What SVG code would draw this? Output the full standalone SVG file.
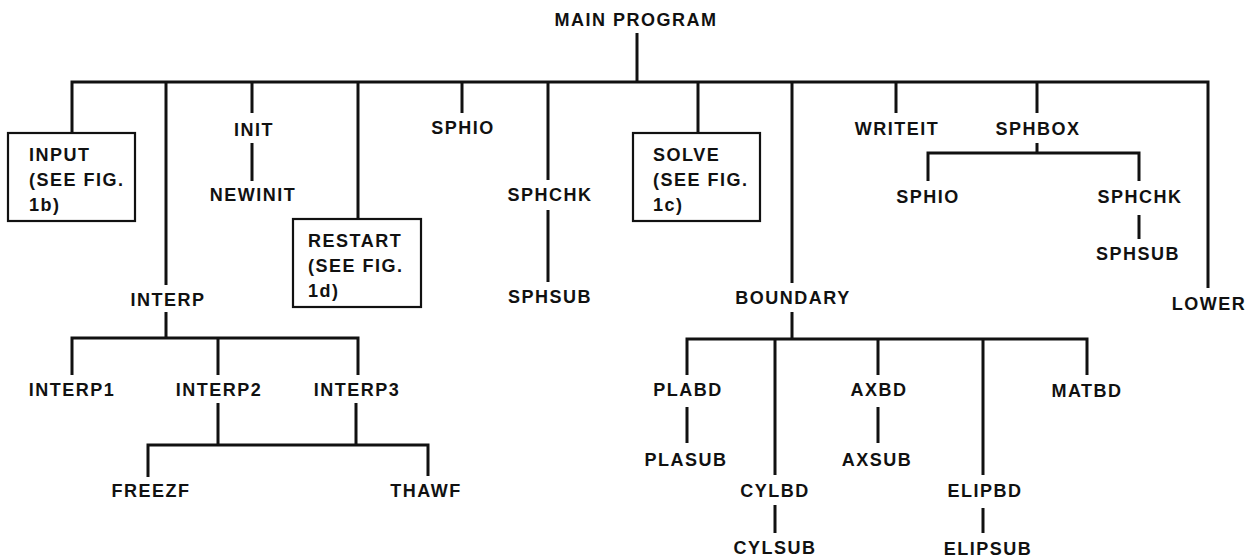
<svg xmlns="http://www.w3.org/2000/svg" width="1250" height="557" viewBox="0 0 1250 557">
<style>
.t{font-family:"Liberation Sans",Arial,sans-serif;font-weight:bold;font-size:18px;letter-spacing:1.5px;fill:#111;text-anchor:middle}
.bt{font-family:"Liberation Sans",Arial,sans-serif;font-weight:bold;font-size:18px;letter-spacing:1.5px;fill:#111;text-anchor:start}
.box{fill:#fff;stroke:#111;stroke-width:2.2}
.c{fill:none;stroke:#111;stroke-width:3}
</style>
<rect width="1250" height="557" fill="#fff"/>
<g id="connectors" class="c">
<path d="M637,33 V82"/>
<path d="M72,133 V82 H1208 V288"/>
<path d="M166,82 V285"/>
<path d="M252,82 V113 M252,143 V181"/>
<path d="M358,82 V219"/>
<path d="M462,82 V113"/>
<path d="M548,82 V180 M548,210 V282"/>
<path d="M698,82 V133"/>
<path d="M792,82 V283"/>
<path d="M896,82 V113"/>
<path d="M1037,82 V113"/>
<path d="M1037,143 V153 M928,181 V153 H1139 V181"/>
<path d="M1139,215 V239"/>
<path d="M166,312 V338 M72,375 V338 H358 V375 M218,338 V375"/>
<path d="M218,403 V445 M356,403 V445 M148,477 V445 H428 V476"/>
<path d="M792,312 V339 M687,375 V339 H1087 V375 M775,339 V475 M878,339 V375 M983,339 V475"/>
<path d="M687,407 V443 M878,407 V443 M775,505 V533 M983,508 V533"/>
</g>
<g id="main"><text class="t" x="636" y="26">MAIN PROGRAM</text></g>
<g id="input"><rect class="box" x="8" y="133" width="127" height="88"/><text class="bt" x="29" y="161">INPUT</text><text class="bt" x="29" y="186">(SEE FIG.</text><text class="bt" x="29" y="211">1b)</text></g>
<g id="init"><text class="t" x="254" y="136">INIT</text></g>
<g id="newinit"><text class="t" x="253" y="201">NEWINIT</text></g>
<g id="interp"><text class="t" x="168" y="306">INTERP</text></g>
<g id="restart"><rect class="box" x="293" y="219" width="128" height="88"/><text class="bt" x="308" y="247">RESTART</text><text class="bt" x="308" y="272">(SEE FIG.</text><text class="bt" x="308" y="297">1d)</text></g>
<g id="sphio1"><text class="t" x="463" y="134">SPHIO</text></g>
<g id="sphchk1"><text class="t" x="550" y="201">SPHCHK</text></g>
<g id="sphsub1"><text class="t" x="550" y="303">SPHSUB</text></g>
<g id="solve"><rect class="box" x="633" y="133" width="127" height="88"/><text class="bt" x="653" y="161">SOLVE</text><text class="bt" x="653" y="186">(SEE FIG.</text><text class="bt" x="653" y="211">1c)</text></g>
<g id="boundary"><text class="t" x="793" y="304">BOUNDARY</text></g>
<g id="writeit"><text class="t" x="897" y="135">WRITEIT</text></g>
<g id="sphbox"><text class="t" x="1038" y="135">SPHBOX</text></g>
<g id="sphio2"><text class="t" x="928" y="203">SPHIO</text></g>
<g id="sphchk2"><text class="t" x="1140" y="203">SPHCHK</text></g>
<g id="sphsub2"><text class="t" x="1138" y="260">SPHSUB</text></g>
<g id="lower"><text class="t" x="1209" y="310">LOWER</text></g>
<g id="interp1"><text class="t" x="72" y="396">INTERP1</text></g>
<g id="interp2"><text class="t" x="219" y="396">INTERP2</text></g>
<g id="interp3"><text class="t" x="357" y="396">INTERP3</text></g>
<g id="freezf"><text class="t" x="151" y="497">FREEZF</text></g>
<g id="thawf"><text class="t" x="426" y="497">THAWF</text></g>
<g id="plabd"><text class="t" x="688" y="396">PLABD</text></g>
<g id="plasub"><text class="t" x="686" y="466">PLASUB</text></g>
<g id="cylbd"><text class="t" x="775" y="497">CYLBD</text></g>
<g id="cylsub"><text class="t" x="775" y="554">CYLSUB</text></g>
<g id="axbd"><text class="t" x="879" y="396">AXBD</text></g>
<g id="axsub"><text class="t" x="877" y="466">AXSUB</text></g>
<g id="elipbd"><text class="t" x="985" y="497">ELIPBD</text></g>
<g id="elipsub"><text class="t" x="988" y="555">ELIPSUB</text></g>
<g id="matbd"><text class="t" x="1087" y="397">MATBD</text></g>
</svg>
